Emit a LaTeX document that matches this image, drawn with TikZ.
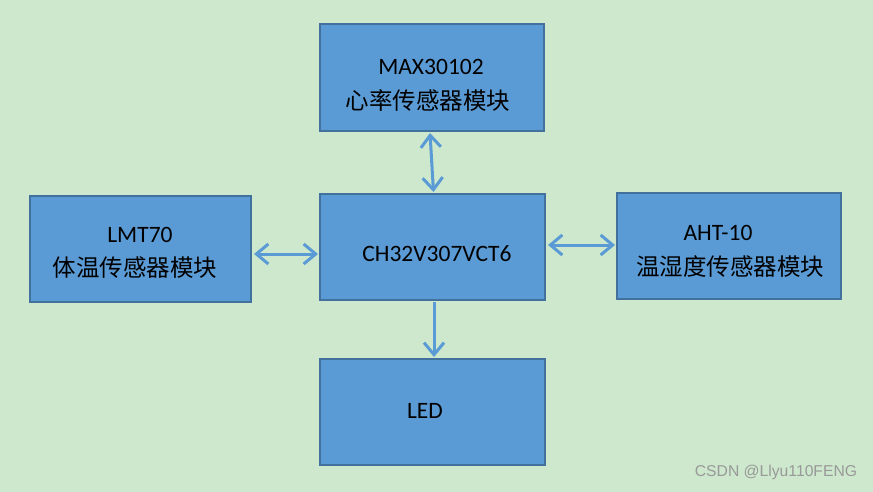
\documentclass[tikz,border=0pt]{standalone}
\usepackage{fontspec}
\setmainfont{Carlito}
\newfontfamily\cjk{Noto Sans CJK SC}[Scale=1.0]
\newfontfamily\wm{Liberation Sans}
\usetikzlibrary{arrows.meta,calc}
\definecolor{bgc}{HTML}{CDE8CD}
\definecolor{boxfill}{HTML}{5B9BD5}
\definecolor{boxline}{HTML}{41719C}
\definecolor{arrc}{HTML}{5B9BD5}
\tikzset{
  blk/.style={draw=boxline, line width=2pt, fill=boxfill, inner sep=0pt},
  txt/.style={inner sep=0pt, font=\fontsize{23.5}{28}\selectfont, text=black},
  link/.style={draw=arrc, line width=3pt, {Straight Barb[length=12pt,width=20pt,line width=3pt]}-{Straight Barb[length=12pt,width=20pt,line width=3pt]}},
  onelink/.style={draw=arrc, line width=3pt, -{Straight Barb[length=12pt,width=20pt,line width=3pt]}}
}
\begin{document}
\begin{tikzpicture}[x=1pt,y=-1pt]
\fill[bgc] (0,0) rectangle (873,492);
\useasboundingbox (0,0) rectangle (873,492);
% boxes
\node[blk, minimum width=224pt, minimum height=107pt] (max) at (432,77.5) {};
\node[blk, minimum width=221pt, minimum height=106pt] (lmt) at (140.5,249) {};
\node[blk, minimum width=225pt, minimum height=106pt] (ch) at (432.5,247) {};
\node[blk, minimum width=224pt, minimum height=106pt] (aht) at (729,246) {};
\node[blk, minimum width=225pt, minimum height=106pt] (led) at (432.5,412) {};
% texts
\node[txt] (t1) at (431,67) {MAX30102};
\node[txt] (t2) at (428,101) {\cjk 心率传感器模块};
\node[txt] (t3) at (140,235) {LMT70};
\node[txt] (t4) at (135,268) {\cjk 体温传感器模块};
\node[txt] (t5) at (437,254) {CH32V307VCT6};
\node[txt] (t6) at (718,233) {AHT-10};
\node[txt] (t7) at (730,267) {\cjk 温湿度传感器模块};
\node[txt] (t8) at (425,411) {LED};
\node[inner sep=0pt, font=\wm\fontsize{15.7}{18}\selectfont, text=gray!80] (wmk) at (776,472) {CSDN @Llyu110FENG};
% connectors
\draw[link] ($(max.south)+(-2,1)$) -- ($(ch.north)+(1,-1)$);
\draw[link] ($(lmt.east)+(2,5)$) -- ($(ch.west)+(-1,7)$);
\draw[link] ($(ch.east)+(2,-2)$) -- ($(aht.west)+(-1,-1)$);
\draw[onelink] ($(ch.south)+(1.5,1)$) -- ($(led.north)+(1.5,-1)$);
\end{tikzpicture}
\end{document}
